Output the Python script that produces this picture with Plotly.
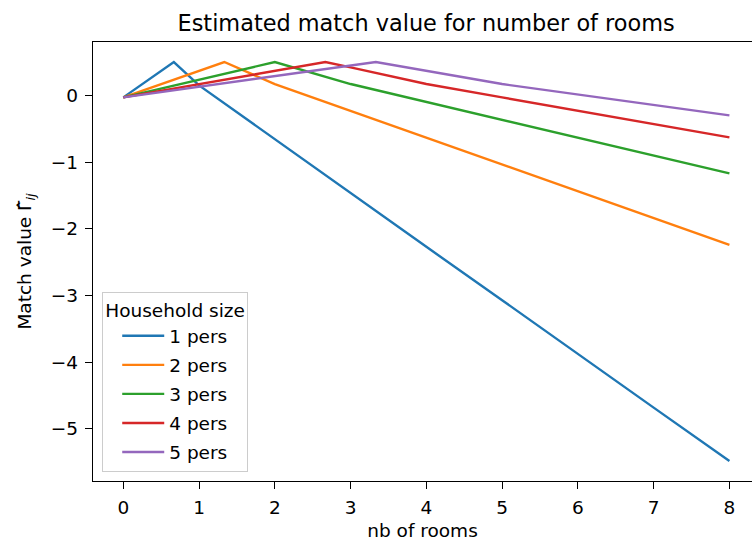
import plotly.graph_objects as go

# Match value by number of rooms, one series per household size
series_names = ["1 pers", "2 pers", "3 pers", "4 pers", "5 pers"]

rooms_1 = [0, 0.667, 1, 2, 3, 4, 5, 6, 7, 8]
value_1 = [-0.03, 0.50, 0.15, -0.66, -1.46, -2.27, -3.07, -3.88, -4.68, -5.48]

rooms_2 = [0, 1.333, 2, 3, 4, 5, 6, 7, 8]
value_2 = [-0.03, 0.50, 0.17, -0.23, -0.64, -1.04, -1.44, -1.84, -2.24]

rooms_3 = [0, 2, 3, 4, 5, 6, 7, 8]
value_3 = [-0.03, 0.50, 0.17, -0.10, -0.37, -0.63, -0.90, -1.17]

rooms_4 = [0, 2.667, 3, 4, 5, 6, 7, 8]
value_4 = [-0.03, 0.50, 0.42, 0.17, -0.03, -0.23, -0.43, -0.63]

rooms_5 = [0, 3.333, 5, 6, 7, 8]
value_5 = [-0.03, 0.50, 0.17, 0.01, -0.14, -0.30]

x_ticks = [0, 1, 2, 3, 4, 5, 6, 7, 8]
y_ticks = [0, -1, -2, -3, -4, -5]

colors = ["#1f77b4", "#ff7f0e", "#2ca02c", "#d62728", "#9467bd"]

xs = [rooms_1, rooms_2, rooms_3, rooms_4, rooms_5]
ys = [value_1, value_2, value_3, value_4, value_5]

FONT = "DejaVu Sans"
FS = 18.5
TXT = "black"

fig = go.Figure()
for i, (name, x, y, c) in enumerate(zip(series_names, xs, ys, colors)):
    fig.add_trace(go.Scatter(
        x=x, y=y, mode="lines", name=name,
        line=dict(color=c, width=2.4),
        legendgroup=f"g{i}",
    ))

axis_common = dict(
    showgrid=False, zeroline=False,
    showline=True, linecolor="black", linewidth=1.4,
    ticks="outside", ticklen=7, tickwidth=1.4, tickcolor="black",
    ticklabelstandoff=3,
    tickfont=dict(family=FONT, size=FS, color=TXT),
)

fig.update_layout(
    width=752, height=542,
    margin=dict(l=93, r=0, t=42, b=61),
    paper_bgcolor="white", plot_bgcolor="white",
    font=dict(family=FONT, size=FS, color=TXT),
    title=dict(
        text="Estimated match value for number of rooms",
        x=0.5055, xref="paper", xanchor="center",
        y=0.9576, yref="container", yanchor="middle",
        font=dict(family=FONT, size=22.4, color=TXT),
    ),
    xaxis=dict(
        **axis_common,
        range=[-0.4, 8.298], mirror=True,
        tickvals=x_ticks, ticktext=[str(v) for v in x_ticks],
        title=dict(text="nb of rooms", font=dict(family=FONT, size=FS, color=TXT), standoff=6),
    ),
    yaxis=dict(
        **axis_common,
        range=[-5.78, 0.80], mirror=False,
        tickvals=y_ticks, ticktext=["0", "\u22121", "\u22122", "\u22123", "\u22124", "\u22125"],
        title=dict(text="Match value \u0393\u0302<sub><i>ij</i></sub>",
                   font=dict(family=FONT, size=FS, color=TXT), standoff=14),
    ),
    legend=dict(
        title=dict(text="Household size", font=dict(family=FONT, size=FS, color=TXT)),
        x=0.014, y=0.02, xanchor="left", yanchor="bottom",
        bgcolor="rgba(255,255,255,0.8)", bordercolor="#cccccc", borderwidth=1,
        font=dict(family=FONT, size=FS, color=TXT),
        tracegroupgap=2,
        itemwidth=42,
        indentation=14,
    ),
)

fig.write_html("out.html")
